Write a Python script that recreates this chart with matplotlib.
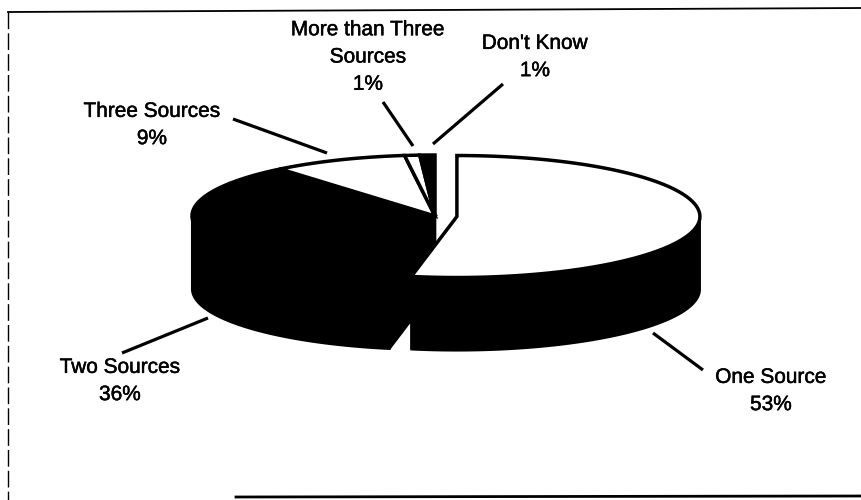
import numpy as np
import matplotlib.pyplot as plt
import matplotlib.patheffects as pe
from matplotlib.patches import Polygon

plt.rcParams['font.family'] = ['Liberation Sans', 'DejaVu Sans']

# data, clockwise from 12 o'clock
labels = ["One Source", "Two Sources", "Three Sources", "More than Three\nSources", "Don't Know"]
values = [53, 36, 9, 1, 1]
top_colors = ['white', 'black', 'white', 'white', 'black']
explode = [22, 0, 0, 0, 0]

# label placement (pixel coords) and leader lines
label_pos = [(771, 391), (120, 381), (152, 125), (368, 57), (535, 57)]
leaders = [((653, 333), (703, 370)), ((122, 353), (208, 318)), ((233, 119), (327, 153)),
           ((383, 102), (413, 146)), ((433, 144), (503, 84))]

# 3d pie geometry in pixels
cx, cy, a, b, depth = 435, 216, 243, 61, 73

fig = plt.figure(figsize=(8.62, 5), dpi=100)
ax = fig.add_axes([0, 0, 1, 1])
ax.set_xlim(0, 862)
ax.set_ylim(500, 0)
ax.axis('off')


def ell(t, dx, dy, h=0.0):
    t = np.radians(t)
    return np.column_stack([cx + dx + a * np.cos(t), cy + dy - b * np.sin(t) + h])


total = float(sum(values))
cum = np.concatenate([[0], np.cumsum(values)])
slices = []
for i, v in enumerate(values):
    ang0 = 90 - cum[i] / total * 360
    ang1 = 90 - cum[i + 1] / total * 360
    mid = np.radians((ang0 + ang1) / 2)
    dx = explode[i] * np.cos(mid)
    dy = -explode[i] * np.sin(mid) * b / a
    slices.append((ang0, ang1, dx, dy))

# radial cut faces
for ang0, ang1, dx, dy in slices:
    for ang in (ang0, ang1):
        p = ell([ang], dx, dy)[0]
        c = (cx + dx, cy + dy)
        face = [c, p, (p[0], p[1] + depth), (c[0], c[1] + depth)]
        ax.add_patch(Polygon(face, closed=True, fc='black', ec='black', lw=1.5, zorder=1))

# outer walls, only the front half
for ang0, ang1, dx, dy in slices:
    for k in (-1, 0, 1):
        lo, hi = max(ang1, -180 + 360 * k), min(ang0, 360 * k)
        if hi <= lo:
            continue
        t = np.linspace(lo, hi, 80)
        top = ell(t, dx, dy)
        bot = ell(t[::-1], dx, dy, depth)
        ax.add_patch(Polygon(np.vstack([top, bot]), closed=True, fc='black', ec='black',
                             lw=1.5, zorder=2))

# tops
for (ang0, ang1, dx, dy), col in zip(slices, top_colors):
    t = np.linspace(ang1, ang0, max(int((ang0 - ang1) * 2), 4))
    pts = np.vstack([[cx + dx, cy + dy], ell(t, dx, dy)])
    ax.add_patch(Polygon(pts, closed=True, fc=col, ec='black', lw=2.5,
                         joinstyle='miter', zorder=3))

# labels
for lab, v, (x, y) in zip(labels, values, label_pos):
    ax.text(x, y, f"{lab}\n{v}%", ha='center', va='center', fontsize=15,
            linespacing=1.55, color='black', zorder=5,
            path_effects=[pe.withStroke(linewidth=0.35, foreground='black')])
for (x0, y0), (x1, y1) in leaders:
    ax.plot([x0, x1], [y0, y1], color='black', lw=2.3, solid_capstyle='butt', zorder=4)

# scanned frame
ax.plot([8, 862], [12, 8], color='black', lw=1.3)
ax.plot([8, 8], [12, 500], color='black', lw=1.0, linestyle=(0, (12, 3)))
ax.plot([236, 862], [497, 496], color='black', lw=2.0)

fig.savefig('out.png', dpi=100)
